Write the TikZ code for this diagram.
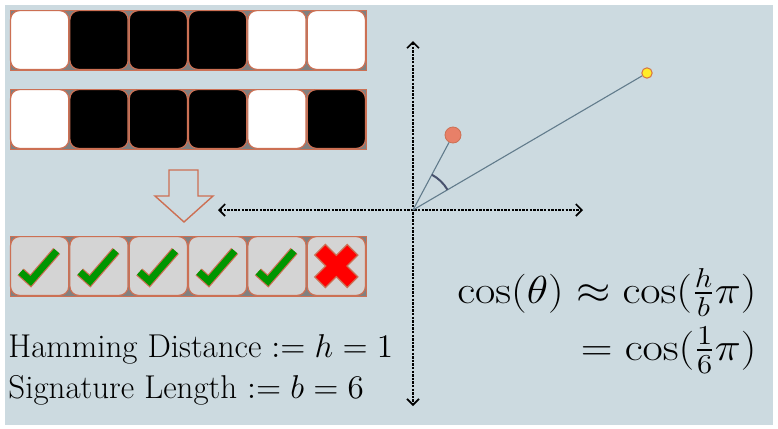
\RequirePackage{fix-cm}
\documentclass[tikz,border=0pt]{standalone}
\usepackage{amsmath}
\usetikzlibrary{arrows.meta,angles}
\definecolor{slide}{RGB}{204,218,224}
\definecolor{tileedge}{RGB}{204,112,84}
\definecolor{framegray}{RGB}{128,128,128}
\definecolor{vecline}{RGB}{98,124,140}
\definecolor{ptorange}{RGB}{232,128,104}
\definecolor{ptyellow}{RGB}{255,236,40}
\definecolor{okgreen}{RGB}{0,150,0}
\definecolor{tickgray}{RGB}{212,212,212}
\definecolor{arcblue}{RGB}{72,82,110}

\tikzset{
  tile/.style={draw=tileedge, line width=0.6pt, rounded corners=4.5pt,
    minimum width=29.1pt, minimum height=29.4pt, inner sep=0pt},
  frame/.style={draw=tileedge, fill=framegray, line width=0.5pt},
  axis/.style={dash pattern=on 1.2pt off 0.6pt, line width=0.55pt,
    {Straight Barb[length=3pt,width=6pt,line width=0.8pt]}-{Straight Barb[length=3pt,width=6pt,line width=0.8pt]}},
  vec/.style={draw=vecline, line width=0.55pt},
  tick/.style={draw=tileedge, line width=0.6pt, double=okgreen, double distance=3.4pt, line join=miter},
  label/.style={inner sep=0pt, font=\fontsize{16.5}{19}\selectfont},
  formula/.style={inner sep=0pt, font=\fontsize{19.5}{23}\selectfont},
}
\newcommand{\wide}[1]{\scalebox{1.13}[1]{#1}}

\begin{document}
\begin{tikzpicture}[x=0.5pt, y=-0.5pt]
  \useasboundingbox (0,0) rectangle (778,429);
  % slide background
  \fill[white] (0,0) rectangle (778,429);
  \fill[slide] (5,5) rectangle (773,425);

  % the two signatures
  \draw[frame] (10,10) rectangle (366,70);
  \foreach \c [count=\i] in {white,black,black,black,white,white}
    \node[tile, fill=\c] (a\i) at ({10+59.33*(\i-0.5)},40) {};
  \draw[frame] (10,89) rectangle (366,149);
  \foreach \c [count=\i] in {white,black,black,black,white,black}
    \node[tile, fill=\c] (b\i) at ({10+59.33*(\i-0.5)},119) {};

  % hollow arrow down
  \draw[tileedge, line width=0.7pt, line join=miter]
    (169,170) -- (198,170) -- (198,196) -- (213,196) -- (184,222)
    -- (155,196) -- (169,196) -- cycle;

  % bitwise comparison
  \draw[frame] (10,236) rectangle (366,296);
  \foreach \i in {1,...,6}
    \node[tile, fill=tickgray] (c\i) at ({10+59.33*(\i-0.5)},266) {};
  \foreach \i in {1,...,5}
    \draw[tick] ([shift={(-19,6)}]c\i.center) -- ([shift={(-9,15)}]c\i.center)
      -- ([shift={(17,-15)}]c\i.center);
  \begin{scope}[shift={(c6.center)}, rotate=45]
    \draw[tileedge, fill=red, line width=0.6pt, line join=miter]
      (7.5,7.5) -- (23,7.5) -- (23,-7.5) -- (7.5,-7.5) -- (7.5,-23) -- (-7.5,-23)
      -- (-7.5,-7.5) -- (-23,-7.5) -- (-23,7.5) -- (-7.5,7.5) -- (-7.5,23)
      -- (7.5,23) -- cycle;
  \end{scope}

  % axes
  \coordinate (o) at (413,210);
  \coordinate (xl) at (218,210);
  \coordinate (xr) at (583,210);
  \coordinate (yt) at (413,41);
  \coordinate (yb) at (413,406);
  \draw[axis] (xl) -- (xr);
  \draw[axis] (yt) -- (yb);

  % the two vectors
  \node[circle, fill=ptorange, draw=tileedge, line width=0.4pt, minimum size=8pt, inner sep=0pt] (u) at (453,135) {};
  \node[circle, fill=ptyellow, draw=tileedge!80!orange, line width=0.5pt, minimum size=5.2pt, inner sep=0pt] (v) at (647,73) {};
  \draw[vec] (o) -- (u);
  \draw[vec] (o) -- (v);
  \pic[draw=arcblue, line width=1pt, angle radius=20pt] {angle = v--o--u};

  % texts
  \node[label, anchor=base west] (ham) at (8,357) {Hamming Distance $:= h = 1$};
  \node[label, anchor=base west] (sig) at (8,398) {Signature Length $:= b = 6$};
  \node[formula, anchor=base east] (cosa) at (757,303) {\wide{$\cos(\theta) \approx \cos(\tfrac{h}{b}\pi)$}};
  \node[formula, anchor=base east] (cosb) at (757,360) {\wide{$= \cos(\tfrac{1}{6}\pi)$}};
\end{tikzpicture}
\end{document}
